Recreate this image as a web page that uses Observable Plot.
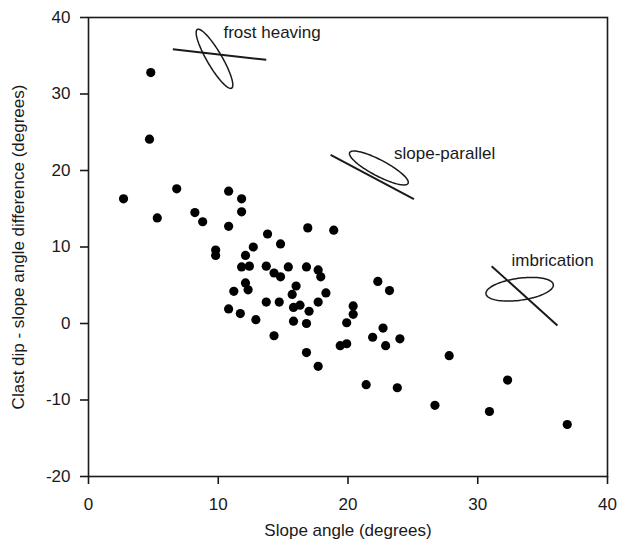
<!DOCTYPE html>
<html>
<head>
<meta charset="utf-8">
<script src="https://cdn.jsdelivr.net/npm/d3@7"></script>
<script src="https://cdn.jsdelivr.net/npm/@observablehq/plot@0.6"></script>
<style>
  html, body { margin: 0; padding: 0; background: #fff; }
  svg { display: block; }
</style>
</head>
<body>
<div id="chart"></div>
<script>
// Slope angle (degrees)
const slopeAngle = [4.8, 4.7, 2.7, 6.8, 5.3, 10.8, 11.8, 8.2, 8.8, 11.8, 10.8, 13.8, 14.8, 16.9, 18.9,
  12.7, 9.8, 9.8, 12.1, 11.8, 12.4, 13.7, 14.3, 14.8, 15.4, 16.8, 17.7, 17.9, 12.1, 12.3, 11.2, 16.0,
  15.7, 18.3, 13.7, 14.7, 17.7, 15.8, 16.3, 17.0, 10.8, 11.7, 12.9, 15.8, 16.8, 14.3, 16.8, 17.7,
  20.4, 20.4, 19.9, 19.4, 19.9, 22.3, 23.2, 22.7, 21.9, 22.9, 24.0, 27.8, 21.4, 23.8, 26.7, 30.9, 32.3, 36.9];
// Clast dip - slope angle difference (degrees)
const dipDifference = [32.8, 24.1, 16.3, 17.6, 13.8, 17.3, 16.3, 14.5, 13.3, 14.6, 12.7, 11.7, 10.4, 12.5, 12.2,
  10.0, 9.6, 8.9, 8.9, 7.4, 7.5, 7.5, 6.6, 6.1, 7.4, 7.4, 7.0, 6.1, 5.3, 4.4, 4.2, 4.9,
  3.8, 4.0, 2.8, 2.8, 2.8, 2.1, 2.4, 1.6, 1.9, 1.3, 0.5, 0.3, 0.0, -1.6, -3.8, -5.6,
  2.3, 1.2, 0.1, -2.9, -2.65, 5.5, 4.3, -0.6, -1.8, -2.9, -2.0, -4.2, -8.0, -8.4, -10.7, -11.5, -7.4, -13.2];

const xTicks = [0, 10, 20, 30, 40];
const yTicks = [-20, -10, 0, 10, 20, 30, 40];
const xLabel = "Slope angle (degrees)";
const yLabel = "Clast dip - slope angle difference (degrees)";

// Fabric schematics (annotations)
const annNames = ["frost heaving", "slope-parallel", "imbrication"];
const annTextX = [10.4, 23.55, 32.6];
const annTextY = [38.0, 22.2, 8.2];
const annLineX1 = [6.5, 18.66, 31.07];
const annLineY1 = [35.86, 22.05, 7.49];
const annLineX2 = [13.7, 25.08, 36.14];
const annLineY2 = [34.47, 16.25, -0.26];
const annEllCX = [9.71, 22.38, 33.23];
const annEllCY = [34.6, 20.33, 4.48];
const annEllMajor = [34, 33, 34];   // px
const annEllMinor = [7.5, 8, 11];   // px
const annEllAngle = [59.7, 27.8, -7.8]; // degrees, clockwise on screen

const W = 617, H = 546;
const mL = 88, mR = 10, mT = 17, mB = 70;
const xDom = [0, 40], yDom = [-20, 40];
const kx = (W - mL - mR) / (xDom[1] - xDom[0]);
const ky = (H - mT - mB) / (yDom[1] - yDom[0]);

const points = slopeAngle.map((x, i) => ({x, y: dipDifference[i]}));
const segs = annNames.map((n, i) => ({x1: annLineX1[i], y1: annLineY1[i], x2: annLineX2[i], y2: annLineY2[i]}));
const texts = annNames.map((n, i) => ({name: n, x: annTextX[i], y: annTextY[i]}));
const ellipses = [];
annNames.forEach((n, i) => {
  const th = annEllAngle[i] * Math.PI / 180;
  const a = annEllMajor[i], b = annEllMinor[i];
  for (let k = 0; k <= 96; k++) {
    const t = 2 * Math.PI * k / 96;
    const px = a * Math.cos(t) * Math.cos(th) - b * Math.sin(t) * Math.sin(th);
    const py = a * Math.cos(t) * Math.sin(th) + b * Math.sin(t) * Math.cos(th);
    ellipses.push({id: n, x: annEllCX[i] + px / kx, y: annEllCY[i] - py / ky});
  }
});

const ink = "#1a1a1a";
const font = "Liberation Sans, Arial, Helvetica, sans-serif";
const fmt = d => String(d);

const chart = Plot.plot({
  width: W, height: H,
  marginLeft: mL, marginRight: mR, marginTop: mT, marginBottom: mB,
  style: {fontFamily: font, fontSize: "17px", color: ink, background: "#fff"},
  x: {domain: xDom, ticks: xTicks},
  y: {domain: yDom, ticks: yTicks},
  marks: [
    Plot.frame({stroke: ink, strokeWidth: 1.6}),
    Plot.axisX({ticks: xTicks, tickFormat: fmt, tickSize: 8, tickPadding: 13, stroke: ink, strokeWidth: 1.6, label: null, fontSize: 17}),
    Plot.axisY({ticks: yTicks, tickFormat: fmt, tickSize: 8, tickPadding: 10, stroke: ink, strokeWidth: 1.6, label: null, fontSize: 17}),
    Plot.text([xLabel], {frameAnchor: "bottom", dy: 54, lineAnchor: "middle", textAnchor: "middle", text: d => d, fontSize: 17, fill: ink}),
    Plot.text([yLabel], {frameAnchor: "left", dx: -70, rotate: -90, textAnchor: "middle", lineAnchor: "middle", text: d => d, fontSize: 17, fill: ink}),
    Plot.line(ellipses, {x: "x", y: "y", z: "id", stroke: ink, strokeWidth: 1.5, curve: "linear"}),
    Plot.link(segs, {x1: "x1", y1: "y1", x2: "x2", y2: "y2", stroke: ink, strokeWidth: 2}),
    Plot.text(texts, {x: "x", y: "y", text: "name", textAnchor: "start", fontSize: 17, fill: ink}),
    Plot.dot(points, {x: "x", y: "y", r: 4.6, fill: "#000", stroke: "none"})
  ]
});
document.getElementById("chart").appendChild(chart);
</script>
</body>
</html>
